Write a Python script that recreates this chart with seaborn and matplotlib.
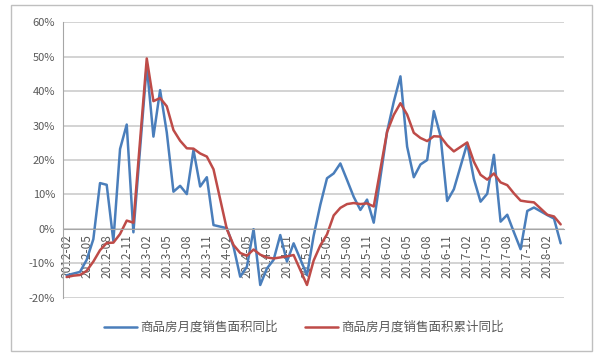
import matplotlib
matplotlib.use('Agg')
import numpy as np
import pandas as pd
import seaborn as sns
import matplotlib.pyplot as plt
from matplotlib.patches import Rectangle
from matplotlib.ticker import FixedLocator, FuncFormatter

# month labels 2012-02 .. 2018-04 (January has no separate figure)
months = pd.period_range('2012-02', '2018-04', freq='M').strftime('%Y-%m').tolist()

name_monthly = '商品房月度销售面积同比'
name_cum = '商品房月度销售面积累计同比'

# monthly yoy, %  (None = January, not published)
monthly_yoy = [
    -13.5, -13.0, -12.5, -9.0, -3.0, 13.3, 12.8, -3.5, 23.2, 30.3, -1.0,
    None, 47.5, 26.8, 40.3, 28.0, 10.8, 12.5, 10.1, 22.9, 12.3, 15.0, 1.1,
    None, 0.2, -5.2, -13.9, -11.0, -0.1, -16.3, -11.5, -9.0, -1.8, -9.5, -4.2,
    None, -13.4, -2.0, 7.0, 14.7, 16.1, 19.0, 14.2, 9.3, 5.5, 8.5, 1.8,
    None, 28.2, 36.9, 44.3, 23.9, 15.0, 18.7, 20.0, 34.2, 27.0, 8.1, 11.5,
    None, 24.8, 14.5, 7.9, 10.2, 21.5, 2.1, 4.1, -1.0, -5.9, 5.2, 6.2,
    None, 4.0, 3.0, -4.2,
]

# cumulative yoy, %
cum_yoy = [
    -14.0, -13.6, -13.4, -12.2, -9.5, -6.2, -4.1, -4.0, -1.5, 2.4, 1.8,
    None, 49.5, 37.1, 38.0, 35.6, 28.7, 25.6, 23.4, 23.3, 21.9, 21.0, 17.3,
    None, -0.1, -4.7, -7.0, -7.8, -6.0, -7.5, -8.3, -8.6, -8.3, -8.0, -7.6,
    None, -16.3, -9.2, -4.8, -1.6, 3.9, 6.1, 7.2, 7.5, 7.2, 7.4, 6.5,
    None, 28.2, 33.1, 36.5, 33.2, 27.9, 26.4, 25.5, 26.9, 26.8, 24.3, 22.5,
    None, 25.1, 19.5, 15.7, 14.3, 16.1, 13.5, 12.7, 10.3, 8.2, 7.9, 7.7,
    None, 4.1, 3.6, 1.3,
]

df = pd.DataFrame({'idx': range(len(months)), 'month': months,
                   name_monthly: monthly_yoy, name_cum: cum_yoy})
long = df.melt(id_vars=['idx', 'month'], var_name='series', value_name='value').dropna()

sns.set_style('white')
plt.rcParams['font.family'] = ['Noto Sans CJK SC', 'DejaVu Sans']

text_col = '#595959'
grid_col = '#C8C8C8'

fig = plt.figure(figsize=(6, 3.58), dpi=100)
ax = fig.add_axes([0.1055, 0.1684, 0.8345, 0.7693])

ax.set_ylim(-20, 60)
ax.set_xlim(-0.5, len(months) - 0.5)
ax.yaxis.set_major_locator(FixedLocator(np.arange(-20, 61, 10)))
ax.yaxis.set_major_formatter(FuncFormatter(lambda v, p: f'{v:.0f}%'))
ax.grid(axis='y', color=grid_col, lw=1.1)
ax.set_axisbelow(True)

sns.lineplot(data=long, x='idx', y='value', hue='series',
             palette={name_monthly: '#4A7EBB', name_cum: '#BE4B48'},
             linewidth=1.8, estimator=None, sort=True, ax=ax)

# category axis drawn along the 0% line
ax.spines['bottom'].set_position(('data', 0))
ax.spines['bottom'].set_color('#A6A6A6')
ax.spines['left'].set_color('#A6A6A6')
ax.spines['top'].set_visible(False)
ax.spines['right'].set_visible(False)

lab_pos = list(range(0, len(months), 3))
ax.xaxis.set_major_locator(FixedLocator(lab_pos))
ax.set_xticklabels([months[i] for i in lab_pos], rotation=90, fontsize=8.5, color=text_col)
ax.xaxis.set_minor_locator(FixedLocator(np.arange(-0.5, len(months), 3)))
ax.tick_params(axis='x', which='major', length=0, pad=4)
ax.tick_params(axis='x', which='minor', length=4, color='#A6A6A6', width=0.8)
ax.tick_params(axis='y', length=3, color='#A6A6A6', labelsize=8, labelcolor=text_col, pad=3)
ax.set_xlabel('')
ax.set_ylabel('')

handles, labels = ax.get_legend_handles_labels()
ax.legend(handles, labels, loc='center', bbox_to_anchor=(0.507, 0.085),
          bbox_transform=fig.transFigure, ncol=2, frameon=False,
          fontsize=9, labelcolor=text_col, handlelength=2.6, columnspacing=2.2,
          handletextpad=0.3)

fig.patches.append(Rectangle((0.0183, 0.0196), 0.968, 0.966, transform=fig.transFigure,
                             fill=False, edgecolor='#BFBFBF', lw=1))

fig.savefig('out.png', dpi=100)
